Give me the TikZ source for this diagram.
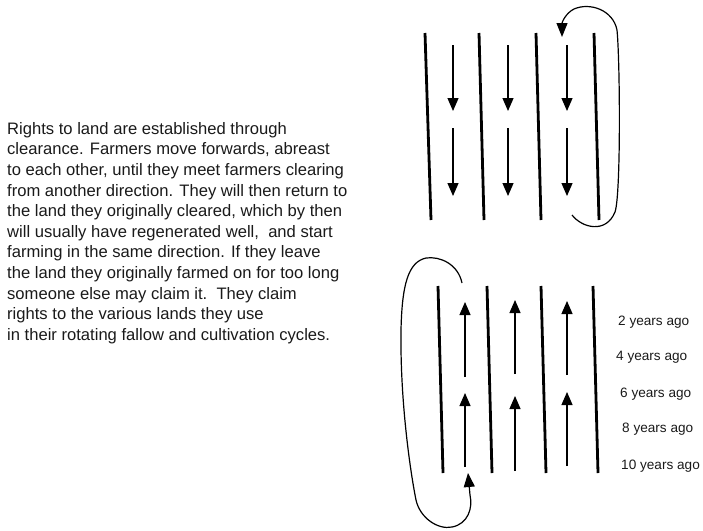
\documentclass[tikz,border=0pt]{standalone}
\usepackage{fontspec}
\setmainfont{Liberation Sans}
\usetikzlibrary{arrows.meta}
\definecolor{ink}{HTML}{1A1A1A}
\tikzset{
  x=1pt, y=-1pt,
  strip/.style={line width=2.8pt, black},
  flow/.style={line width=1.2pt, black, -{Triangle[width=11pt,length=13pt]}},
  cycle/.style={line width=1.2pt, black, -{Triangle[width=11pt,length=14pt]}},
  yearlabel/.style={anchor=west, inner sep=0pt, text=ink, font=\fontsize{13.6}{16}\selectfont},
  explain/.style={anchor=north west, inner sep=0pt, align=left, text=ink,
                  font=\fontsize{16.6}{20.6}\selectfont}
}
\begin{document}
\begin{tikzpicture}
\useasboundingbox (0,0) rectangle (703,530);

% explanatory paragraph
\node[explain] (text) at (7,122) {Rights to land are established through\\
clearance. Farmers move forwards, abreast\\
to each other, until they meet farmers clearing\\
from another direction. They will then return to\\
the land they originally cleared, which by then\\
will usually have regenerated well,\ \ and start\\
farming in the same direction. If they leave\\
the land they originally farmed on for too long\\
someone else may claim it.\ \ They claim\\
rights to the various lands they use\\
in their rotating fallow and cultivation cycles.};

% ---- upper field: strips cleared moving downwards ----
\coordinate (ua1) at (425,33);  \coordinate (ub1) at (431,220);
\coordinate (ua2) at (479,33);  \coordinate (ub2) at (484,220);
\coordinate (ua3) at (536,33);  \coordinate (ub3) at (541,220);
\coordinate (ua4) at (594,33);  \coordinate (ub4) at (599,220);
\foreach \i in {1,...,4} \draw[strip] (ua\i) -- (ub\i);

\foreach \x in {453,508,567} {
  \draw[flow] (\x,45) -- (\x,111);
  \draw[flow] (\x,128) -- (\x,196);
}

% return loop of the upper field
\coordinate (ustart) at (572,215);
\coordinate (uend) at (562,37);
\draw[cycle] (ustart) .. controls (582,228) and (606,234) .. (615,212)
  .. controls (621,195) and (620,60) .. (617,30)
  .. controls (613,10) and (590,2) .. (574,9)
  .. controls (566,13) and (562,22) .. (uend);

% ---- lower field: strips cleared moving upwards ----
\coordinate (la1) at (438,286);  \coordinate (lb1) at (443,473);
\coordinate (la2) at (487,286);  \coordinate (lb2) at (492,473);
\coordinate (la3) at (541,286);  \coordinate (lb3) at (546,473);
\coordinate (la4) at (593,286);  \coordinate (lb4) at (598,473);
\foreach \i in {1,...,4} \draw[strip] (la\i) -- (lb\i);

\draw[flow] (465,377) -- (465,302);
\draw[flow] (465,467) -- (465,393);
\draw[flow] (515,374) -- (515,300);
\draw[flow] (515,471) -- (515,396);
\draw[flow] (567,375) -- (567,301);
\draw[flow] (567,466) -- (567,392);

% return loop of the lower field
\coordinate (lstart) at (462,283);
\coordinate (lend) at (468,473);
\draw[cycle] (lstart) .. controls (458,264) and (440,256) .. (426,258)
  .. controls (408,262) and (402,285) .. (401,330)
  .. controls (400,400) and (410,470) .. (416,500)
  .. controls (420,518) and (438,530) .. (452,527)
  .. controls (468,524) and (473,508) .. (470,495)
  -- (lend);

% time scale
\node[yearlabel] (y2)  at (618,322) {2 years ago};
\node[yearlabel] (y4)  at (616,357) {4 years ago};
\node[yearlabel] (y6)  at (620,394) {6 years ago};
\node[yearlabel] (y8)  at (622,429) {8 years ago};
\node[yearlabel] (y10) at (621,466) {10 years ago};
\end{tikzpicture}
\end{document}
